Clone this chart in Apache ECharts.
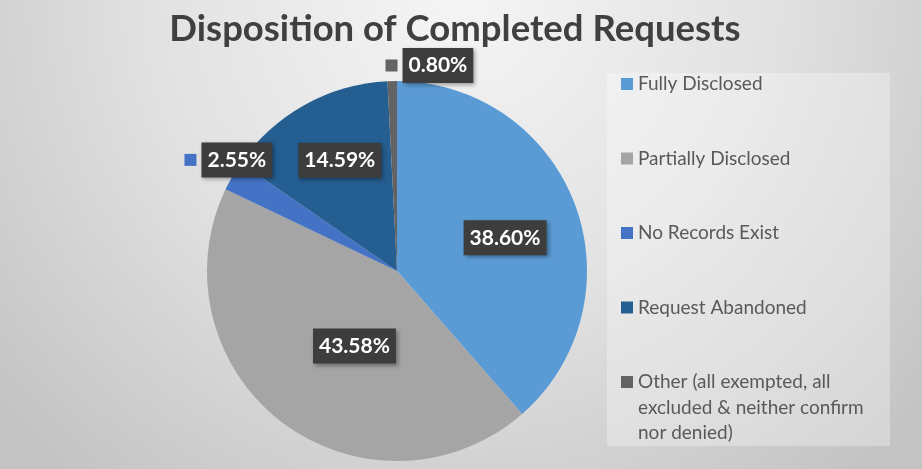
<!DOCTYPE html>
<html>
<head>
<meta charset="utf-8">
<script src="https://cdn.jsdelivr.net/npm/echarts@6/dist/echarts.min.js"></script>
<style>
html,body{margin:0;padding:0;background:#fff;}
#chart{width:922px;height:469px;}
</style>
</head>
<body>
<div id="chart"></div>
<script>
// ---- data ----
const titleText = 'Disposition of Completed Requests';
const categories = [
  'Fully Disclosed',
  'Partially Disclosed',
  'No Records Exist',
  'Request Abandoned',
  'Other (all exempted, all excluded & neither confirm nor denied)'
];
const values = [38.60, 43.58, 2.55, 14.59, 0.80];

// ---- styles ----
const colors = ['#5B9BD5', '#A5A5A5', '#4472C4', '#255E91', '#636363'];
const pieCenter = [397, 271];
const pieRadius = 190;
// label placement: radial factor and angular nudge (degrees)
const labelRadial = [0.595, 0.454, 1.063, 0.656, 1.095];
const labelNudge = [3.5, -7.6, 3.3, 1.8, 10.4];
const labelOutside = [false, false, true, false, true];
const legendLines = {
  'Other (all exempted, all excluded & neither confirm nor denied)':
    '\n\nOther (all exempted, all\nexcluded & neither confirm\nnor denied)'
};

const FONT = 'Lato';
const LH = 25.5;

const chart = echarts.init(document.getElementById('chart'), null, {renderer: 'canvas'});

const total = values.reduce((a, b) => a + b, 0);
const cum = [];
values.reduce((acc, v, i) => { cum[i] = acc; return acc + v; }, 0);

const rich = {
  val: {
    backgroundColor: '#3d3d3d',
    color: '#ffffff',
    fontFamily: FONT,
    fontWeight: 'bold',
    fontSize: 21,
    lineHeight: 23,
    padding: [7, 6, 7, 6],
    verticalAlign: 'middle',
    shadowColor: 'rgba(0,0,0,0.35)',
    shadowBlur: 4,
    shadowOffsetX: 2,
    shadowOffsetY: 2
  },
  sp: { width: 5, verticalAlign: 'middle' }
};
colors.forEach((c, i) => {
  rich['k' + i] = { width: 12, height: 12, backgroundColor: c, verticalAlign: 'middle' };
});

const option = {
  animation: false,
  backgroundColor: {
    type: 'radial', x: 0.5, y: 0.0, r: 1.3,
    colorStops: [
      {offset: 0, color: '#f5f5f5'},
      {offset: 0.5, color: '#e2e2e2'},
      {offset: 1, color: '#c4c4c4'}
    ]
  },
  title: {
    text: titleText,
    left: 455,
    top: 7.5,
    padding: 0,
    textAlign: 'center',
    textStyle: {
      fontFamily: FONT,
      fontWeight: 'bold',
      fontSize: 36.5,
      lineHeight: 44,
      color: '#404040'
    }
  },
  graphic: [{
    type: 'rect',
    shape: {x: 607, y: 73, width: 283, height: 373},
    style: {fill: 'rgba(255,255,255,0.3)'},
    z: -1
  }],
  legend: [{
    orient: 'vertical',
    left: 621,
    top: 71.25,
    padding: 0,
    itemWidth: 12,
    itemHeight: 12,
    itemGap: 49,
    icon: 'rect',
    selectedMode: false,
    data: categories.slice(0, 4),
    textStyle: {fontFamily: FONT, fontSize: 19, color: '#595959', lineHeight: LH}
  }, {
    orient: 'vertical',
    left: 621,
    top: 318.25,
    padding: 0,
    itemWidth: 12,
    itemHeight: 12,
    icon: 'rect',
    selectedMode: false,
    data: categories.slice(4),
    formatter: n => legendLines[n] || n,
    textStyle: {fontFamily: FONT, fontSize: 19, color: '#595959', lineHeight: LH}
  }],
  series: [{
    type: 'pie',
    center: pieCenter,
    radius: pieRadius,
    startAngle: 90,
    clockwise: true,
    avoidLabelOverlap: false,
    silent: true,
    itemStyle: {borderWidth: 0},
    label: {
      show: true,
      position: 'inside',
      formatter: p => {
        const t = '{val|' + values[p.dataIndex].toFixed(2) + '%}';
        return labelOutside[p.dataIndex] ? '{k' + p.dataIndex + '|}{sp|}' + t : t;
      },
      rich: rich
    },
    labelLine: {show: false},
    labelLayout: function (params) {
      const i = params.dataIndex;
      const theta = ((cum[i] + values[i] / 2) / total * 360 + labelNudge[i]) * Math.PI / 180;
      const r = labelRadial[i] * pieRadius;
      return {
        x: pieCenter[0] + r * Math.sin(theta),
        y: pieCenter[1] - r * Math.cos(theta),
        align: 'center',
        verticalAlign: 'middle'
      };
    },
    data: categories.map((n, i) => ({name: n, value: values[i], itemStyle: {color: colors[i]}}))
  }]
};
chart.setOption(option);
</script>
</body>
</html>
